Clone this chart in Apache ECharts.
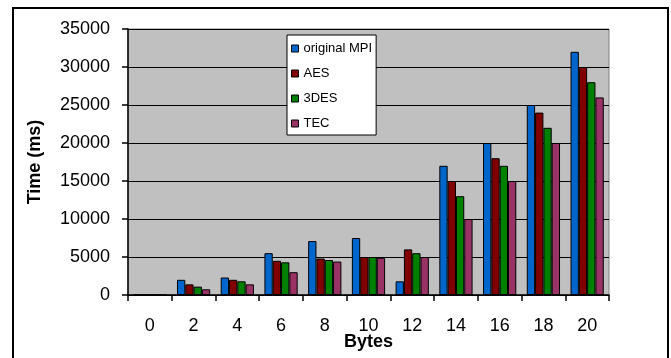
<!DOCTYPE html>
<html>
<head>
<meta charset="utf-8">
<script src="https://cdn.jsdelivr.net/npm/echarts@6/dist/echarts.min.js"></script>
<style>
  html, body { margin: 0; padding: 0; background: #ffffff; }
  #chart { width: 671px; height: 358px; }
</style>
</head>
<body>
<div id="chart"></div>
<script>
// Message size in bytes (x axis categories)
var bytes = ['0', '2', '4', '6', '8', '10', '12', '14', '16', '18', '20'];

// Execution time in ms for each variant
var originalMPI = [0, 2000, 2300, 5500, 7100, 7500, 1800, 17000, 20000, 25000, 32000];
var aes         = [0, 1400, 2000, 4500, 4800, 5000, 6000, 15000, 18000, 24000, 30000];
var tripleDes   = [0, 1100, 1800, 4300, 4600, 5000, 5500, 13000, 17000, 22000, 28000];
var tec         = [0,  750, 1400, 3000, 4400, 4900, 5000, 10000, 15000, 20000, 26000];

// Y axis tick range
var yMin = 0, yMax = 35000, yStep = 5000;

var FONT = 'Arial, "Liberation Sans", sans-serif';

function barSeries(name, data, color) {
  return {
    name: name,
    type: 'bar',
    data: data,
    barGap: '0%',
    barCategoryGap: '24%',
    itemStyle: { color: color, borderColor: '#000000', borderWidth: 1 },
    emphasis: { disabled: true }
  };
}

var chart = echarts.init(document.getElementById('chart'), null, { renderer: 'canvas' });

chart.setOption({
  animation: false,
  backgroundColor: '#ffffff',
  textStyle: { fontFamily: FONT },
  graphic: [{
    type: 'rect',
    shape: { x: 13, y: 8, width: 655, height: 354 },
    style: { fill: 'none', stroke: '#000000', lineWidth: 2 },
    silent: true,
    z: -10
  }],
  grid: {
    left: 128, right: 62, top: 29, bottom: 63,
    outerBoundsMode: 'none',
    containLabel: false,
    show: true,
    backgroundColor: '#c0c0c0',
    borderColor: '#808080',
    borderWidth: 1
  },
  legend: {
    orient: 'vertical',
    left: 287, top: 35,
    width: 90,
    backgroundColor: '#ffffff',
    borderColor: '#000000',
    borderWidth: 1,
    padding: [7, 4, 5, 4],
    itemWidth: 7, itemHeight: 7,
    itemGap: 12,
    itemStyle: { borderColor: '#000000', borderWidth: 1 },
    textStyle: { fontFamily: FONT, fontSize: 13, color: '#000000', padding: [0, 0, 0, 0] },
    data: ['original MPI', 'AES', '3DES', 'TEC'],
    selectedMode: false,
    icon: 'rect'
  },
  xAxis: {
    type: 'category',
    data: bytes,
    name: 'Bytes',
    nameLocation: 'middle',
    nameGap: 38,
    nameMoveOverlap: false,
    nameTextStyle: { fontFamily: FONT, fontSize: 18, fontWeight: 'bold', color: '#000000' },
    axisLine: { lineStyle: { color: '#000000', width: 1.5 } },
    axisTick: { show: true, alignWithLabel: false, length: 6, lineStyle: { color: '#000000', width: 1.5 } },
    axisLabel: { fontFamily: FONT, fontSize: 18, color: '#000000', margin: 22 }
  },
  yAxis: {
    type: 'value',
    min: yMin, max: yMax, interval: yStep,
    name: 'Time (ms)',
    nameLocation: 'middle',
    nameGap: 84,
    nameMoveOverlap: false,
    nameTextStyle: { fontFamily: FONT, fontSize: 18, fontWeight: 'bold', color: '#000000' },
    axisLine: { show: true, lineStyle: { color: '#000000', width: 1.5 } },
    axisTick: { show: true, length: 6, lineStyle: { color: '#000000', width: 1.5 } },
    axisLabel: {
      fontFamily: FONT, fontSize: 18, color: '#000000', margin: 18,
      formatter: function (v) { return String(v); }
    },
    splitLine: { show: true, lineStyle: { color: '#000000', width: 1 } }
  },
  series: [
    barSeries('original MPI', originalMPI, '#0066cc'),
    barSeries('AES', aes, '#800000'),
    barSeries('3DES', tripleDes, '#008000'),
    barSeries('TEC', tec, '#993366')
  ]
});
</script>
</body>
</html>
